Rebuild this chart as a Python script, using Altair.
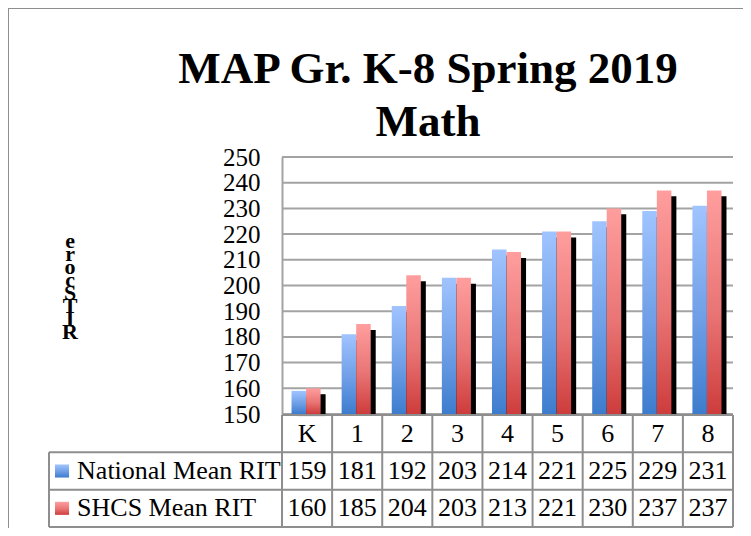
import altair as alt
import pandas as pd

# ---------------- data ----------------
grades = ["K", "1", "2", "3", "4", "5", "6", "7", "8"]
national = [159, 181, 192, 203, 214, 221, 225, 229, 231]
shcs = [160, 185, 204, 203, 213, 221, 230, 237, 237]
series_names = ["National Mean RIT", "SHCS Mean RIT"]
y_ticks = [150, 160, 170, 180, 190, 200, 210, 220, 230, 240, 250]
title_lines = ["MAP Gr. K-8 Spring 2019", "Math"]
y_title = "RIT Score"

# ---------------- layout / style ----------------
W, H = 735, 520
N = len(grades)
LABEL_COL = 4.65            # legend column width, in category widths
X_RANGE = [41, 725]
Y_RANGE = [406, 149]        # 150 -> 406, 250 -> 149
TABLE_RANGE = [407, 519]    # table rows 0..3
PLOT_LEFT_PX = 274
FONT = "Liberation Serif"
GRID = "#A3A3A3"
LINE = "#8E8E8E"
BAR_W = 0.29
BAR_START = 0.19
SH_DX = 0.10                # shadow shift right (category units)
SH_DY = 2.3                 # shadow shift down (value units)
SH_BOTTOM = 149.2

blue_grad = alt.Gradient(gradient="linear", x1=0, y1=0, x2=0, y2=1,
                         stops=[alt.GradientStop(color="#A0C4FF", offset=0),
                                alt.GradientStop(color="#6E9EE6", offset=0.55),
                                alt.GradientStop(color="#3D7CCD", offset=1)])
red_grad = alt.Gradient(gradient="linear", x1=0, y1=0, x2=0, y2=1,
                        stops=[alt.GradientStop(color="#FF9E9E", offset=0),
                               alt.GradientStop(color="#E97474", offset=0.55),
                               alt.GradientStop(color="#CE3C3C", offset=1)])
grads = [blue_grad, red_grad]

XS = alt.Scale(domain=[-LABEL_COL, N], range=X_RANGE, nice=False, zero=False)
YS = alt.Scale(domain=[150, 250], range=Y_RANGE, nice=False, zero=False)
TS = alt.Scale(domain=[0, 3], range=TABLE_RANGE, nice=False, zero=False)


def qx(f):
    return alt.X(f, type="quantitative", scale=XS, axis=None)


def dx(v):
    return alt.X(datum=v, type="quantitative", scale=XS, axis=None)


def qy(f, scale=YS):
    return alt.Y(f, type="quantitative", scale=scale, axis=None)


rows = []
for i, g in enumerate(grades):
    rows.append({"grade": g, "idx": i, "s": 0, "series": series_names[0], "value": national[i]})
    rows.append({"grade": g, "idx": i, "s": 1, "series": series_names[1], "value": shcs[i]})
long_df = pd.DataFrame(rows)
grade_df = pd.DataFrame({"grade": grades, "idx": list(range(N))})
tick_df = pd.DataFrame({"tick": y_ticks})
name_df = pd.DataFrame({"name": series_names, "s": [0, 1]})
one_df = pd.DataFrame({"a": [0]})
letters = [c for c in y_title if c != " "]
ytitle_df = pd.DataFrame({"ch": letters, "k": list(range(len(letters)))})

# ---------------- frame ----------------
frame_left = alt.Chart(one_df).mark_rule(color=LINE, strokeWidth=2).encode(
    x=alt.value(0), y=alt.value(0), y2=alt.value(H))
frame_top = alt.Chart(one_df).mark_rule(color=LINE, strokeWidth=2).encode(
    x=alt.value(0), x2=alt.value(W), y=alt.value(0))

# ---------------- title ----------------
title = alt.Chart(pd.DataFrame({"line": title_lines, "n": [0, 1]})).mark_text(
    font=FONT, fontSize=45, fontWeight="bold", align="center", baseline="alphabetic",
    color="black").encode(
    x=alt.value(420),
    y=alt.Y("n:Q", scale=alt.Scale(domain=[0, 1], range=[75, 128], nice=False, zero=False), axis=None),
    text="line:N")

# ---------------- y axis title (stacked glyphs, bottom to top) ----------------
ytitle = alt.Chart(ytitle_df).mark_text(
    font=FONT, fontSize=22, fontWeight="bold", align="center", baseline="middle",
    color="black").encode(
    x=alt.value(62),
    y=alt.Y("k:Q", scale=alt.Scale(domain=[0, len(letters) - 1], range=[324, 233],
                                   nice=False, zero=False), axis=None),
    text="ch:N")

# ---------------- grid + axis ----------------
grid = alt.Chart(tick_df).mark_rule(color=GRID, strokeWidth=2).encode(
    x=dx(0), x2=alt.X2(datum=N),
    y=alt.Y("tick:Q", scale=YS,
            axis=alt.Axis(values=y_ticks, offset=-PLOT_LEFT_PX, ticks=False, grid=False,
                          domainColor=GRID, domainWidth=2, labelFont=FONT, labelFontSize=25,
                          labelColor="black", labelPadding=22, title=None,
                          labelOverlap=False)))


# ---------------- bars ----------------
def bar_layers(s):
    base = alt.Chart(long_df).transform_filter(f"datum.s == {s}").transform_calculate(
        x0=f"datum.idx + {BAR_START} + datum.s * {BAR_W}",
        x1=f"datum.idx + {BAR_START} + (datum.s + 1) * {BAR_W}",
        sx0=f"datum.idx + {BAR_START} + datum.s * {BAR_W} + {SH_DX}",
        sx1=f"datum.idx + {BAR_START} + (datum.s + 1) * {BAR_W} + {SH_DX}",
        sy=f"datum.value - {SH_DY}",
        sy2=f"{SH_BOTTOM}",
    )
    shadow = base.mark_bar(color="black").encode(
        x=qx("sx0"), x2="sx1:Q", y=qy("sy"), y2="sy2:Q")
    bar = base.mark_bar(color=grads[s]).encode(
        x=qx("x0"), x2="x1:Q", y=qy("value"), y2=alt.Y2(datum=150))
    return [shadow, bar]


bars = bar_layers(0) + bar_layers(1)

# ---------------- data table ----------------
hl = alt.Chart(pd.DataFrame({"r": [0, 1, 2, 3]})).transform_calculate(
    xs=f"datum.r == 0 ? 0 : {-LABEL_COL}").mark_rule(color=LINE, strokeWidth=2).encode(
    x=qx("xs"), x2=alt.X2(datum=N), y=qy("r", TS))
vl = alt.Chart(pd.DataFrame({"c": [-LABEL_COL] + list(range(N + 1))})).transform_calculate(
    ys="datum.c < 0 ? 1 : 0").mark_rule(color=LINE, strokeWidth=2).encode(
    x=qx("c"), y=qy("ys", TS), y2=alt.Y2(datum=3))

grade_txt = alt.Chart(grade_df).transform_calculate(
    xc="datum.idx + 0.5", yc="0.5").mark_text(
    font=FONT, fontSize=26, baseline="middle", align="center", color="black").encode(
    x=qx("xc"), y=qy("yc", TS), text="grade:N")
val_txt = alt.Chart(long_df).transform_calculate(
    xc="datum.idx + 0.5", yc="datum.s + 1.5").mark_text(
    font=FONT, fontSize=26, baseline="middle", align="center", color="black").encode(
    x=qx("xc"), y=qy("yc", TS), text="value:Q")
name_txt = alt.Chart(name_df).transform_calculate(
    xc=f"{-LABEL_COL} + 0.56", yc="datum.s + 1.5").mark_text(
    font=FONT, fontSize=26, baseline="middle", align="left", color="black").encode(
    x=qx("xc"), y=qy("yc", TS), text="name:N")


def key_rect(s):
    return alt.Chart(name_df).transform_filter(f"datum.s == {s}").transform_calculate(
        xa=f"{-LABEL_COL} + 0.12", xb=f"{-LABEL_COL} + 0.40",
        ya="datum.s + 1.5 - 0.175", yb="datum.s + 1.5 + 0.175").mark_rect(
        fill=grads[s]).encode(x=qx("xa"), x2="xb:Q", y=qy("ya", TS), y2="yb:Q")


layers = [frame_left, frame_top, title, ytitle, grid] + bars + [
    hl, vl, grade_txt, val_txt, name_txt, key_rect(0), key_rect(1)]

chart = alt.layer(*layers).resolve_scale(y="independent").properties(
    width=W, height=H, padding=0,
    autosize=alt.AutoSizeParams(type="none"),
    background="white",
).configure_view(stroke=None)

chart.save("out.html", embed_options={"renderer": "svg", "actions": False})
